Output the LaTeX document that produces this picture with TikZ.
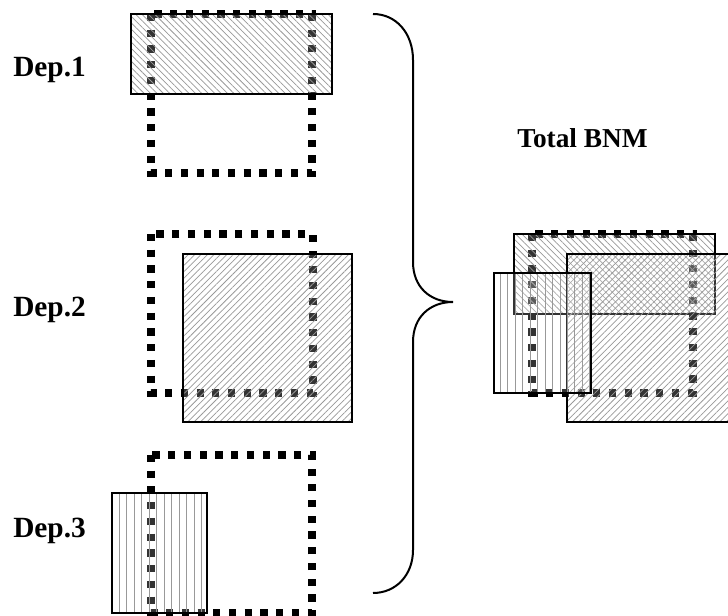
\documentclass[tikz,border=0pt]{standalone}
\usepackage{fontspec}
\setmainfont{Liberation Serif}
\usetikzlibrary{patterns.meta}
\begin{document}
\begin{tikzpicture}[x=0.75pt,y=-0.75pt,
  lbl/.style={font=\fontsize{22}{26}\selectfont\bfseries, anchor=base west, inner sep=0pt},
  dotsq/.style={line width=5.6pt, dash pattern=on 5.4pt off 6.4pt, black},
  boxline/.style={line width=1.4pt, black},
  hatchNW/.style={pattern={Lines[angle=-45,distance=3.4pt,line width=0.55pt]}, pattern color=gray!80},
  hatchNE/.style={pattern={Lines[angle=45,distance=3.4pt,line width=0.55pt]}, pattern color=gray!80},
  hatchV/.style={pattern={Lines[angle=90,distance=5.6pt,line width=0.7pt]}, pattern color=gray!80},
  veil/.style={fill=white, fill opacity=0.2},
  bracestyle/.style={line width=1.5pt, black}
]
\useasboundingbox (0,0) rectangle (728,616);
\clip (0,0) rectangle (728,616);

% labels
\node[lbl] (d1) at (13,77) {Dep.1};
\node[lbl] (d2) at (13,317) {Dep.2};
\node[lbl] (d3) at (13,537) {Dep.3};
\node[lbl, font=\fontsize{20.5}{24}\selectfont\bfseries] (tot) at (517,148) {Total BNM};

% Dep.1
\draw[dotsq] (151,14) rectangle (312,173);
\fill[veil] (131,14) rectangle (332,94);
\path[hatchNW] (131,14) rectangle (332,94);
\draw[boxline] (131,14) rectangle (332,94);

% Dep.2
\draw[dotsq] (151,234) rectangle (313,393);
\fill[veil] (183,254) rectangle (352,422);
\path[hatchNE] (183,254) rectangle (352,422);
\draw[boxline] (183,254) rectangle (352,422);

% Dep.3
\draw[dotsq] (151,455) rectangle (312,613);
\fill[veil] (112,493) rectangle (207,613);
\path[hatchV] (112,493) rectangle (207,613);
\draw[boxline] (112,493) rectangle (207,613);

% Brace
\draw[bracestyle] (373,14) .. controls (396,14) and (413,33) .. (413,60)
  -- (413,262) .. controls (413,287) and (430,302) .. (453,302)
  .. controls (430,302) and (413,317) .. (413,342)
  -- (413,550) .. controls (413,575) and (396,593) .. (373,593);

% Total BNM
\draw[dotsq] (532,234) rectangle (693,393);
\fill[veil] (514,234) rectangle (715,314);
\path[hatchNW] (514,234) rectangle (715,314);
\draw[boxline] (514,234) rectangle (715,314);
\fill[veil] (567,254) rectangle (736,422);
\path[hatchNE] (567,254) rectangle (736,422);
\draw[boxline] (567,254) rectangle (736,422);
\fill[veil] (494,273) rectangle (591,393);
\path[hatchV] (494,273) rectangle (591,393);
\draw[boxline] (494,273) rectangle (591,393);
\end{tikzpicture}
\end{document}
